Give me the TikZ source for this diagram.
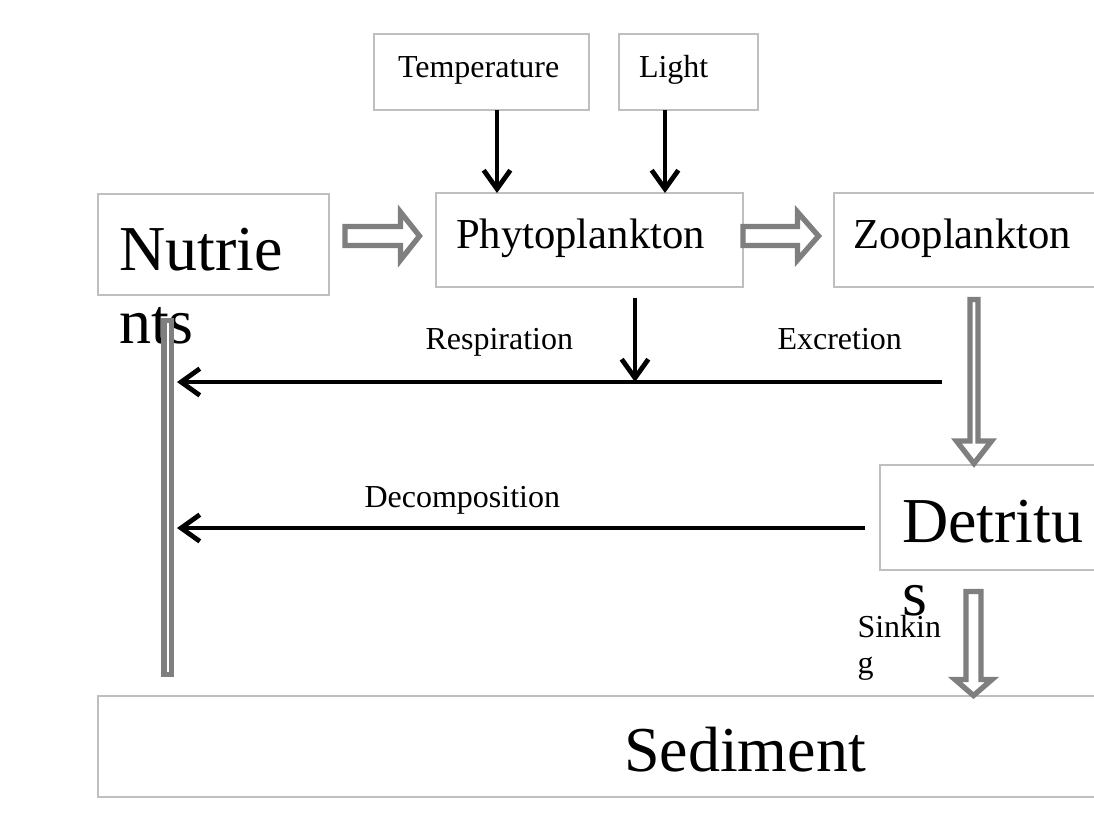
\documentclass[tikz,border=0pt]{standalone}
\usepackage{fontspec}
\setmainfont{Liberation Serif}
\usetikzlibrary{arrows.meta}
\definecolor{boxgray}{HTML}{BFBFBF}
\definecolor{arrgray}{HTML}{7F7F7F}
\newcommand\fsmall{\fontsize{12}{13.5}\selectfont}
\newcommand\fmid{\fontsize{16}{19}\selectfont}
\newcommand\fbig{\fontsize{24}{27.4}\selectfont}
\tikzset{
  box/.style={draw=boxgray, line width=0.75pt, anchor=north west, outer sep=0pt, inner ysep=0pt, align=left},
  lbl/.style={anchor=base west, inner sep=0pt, font=\fsmall},
  arr/.style={line width=1.2pt, -{Straight Barb[length=7pt,width=10pt,line width=1.8pt]}},
  hollow/.style={draw=arrgray, line width=2pt, fill=white},
  bar/.style={draw=arrgray, line width=2pt, fill=white, inner sep=0pt, outer sep=0pt}
}

\begin{document}
\begin{tikzpicture}[x=0.375pt, y=-0.375pt]
        \useasboundingbox (0,0) rectangle (1094,838);
        \clip (0,0) rectangle (1094,838);
        \node[box, font=\fsmall, inner xsep=9pt, text width=62.625pt, text height=16.125pt, text depth=12.375pt] (temp) at (374,34) {Temperature};
        \node[box, font=\fsmall, inner xsep=7.5pt, text width=37.125pt, text height=16.125pt, text depth=12.375pt] (light) at (619,34) {Light};
        \node[box, font=\fbig, inner xsep=7.875pt, text width=70.875pt, text height=28.5pt, text depth=9.375pt] (nut) at (98,194) {Nutrie\\nts};
        \node[box, font=\fmid, inner xsep=7.5pt, text width=100.125pt, text height=20.625pt, text depth=14.625pt] (phyto) at (436,193) {Phytoplankton};
        \node[box, font=\fmid, inner xsep=7.125pt, text width=93pt, text height=20.625pt, text depth=14.625pt] (zoo) at (834,193) {Zooplankton};
        \node[box, font=\fbig, inner xsep=8.25pt, text width=73.5pt, text height=28.875pt, text depth=10.5pt] (det) at (880,465) {Detritu\\s};
        \node[box, font=\fbig, align=center, inner xsep=7.875pt, text width=469.5pt, text height=28.125pt, text depth=9.75pt] (sed) at (98,696) {Sediment};
        \node[bar, minimum width=2.8125pt, minimum height=132.75pt] (nbar) at (167.75,497.5) {};

        \node[lbl] (resp) at (425,349) {Respiration};
        \node[lbl] (excr) at (777,349) {Excretion};
        \node[lbl] (decomp) at (364,507) {Decomposition};
        \node[lbl, text width=30pt, align=left] (sink) at (857,637) {Sinkin\\g};

        \coordinate (tx) at (497,0);
        \coordinate (lx) at (665,0);
        \coordinate (rx) at (635,0);
        \coordinate (exc) at (942,382);
        \coordinate (dec) at (865,528);

        \draw[hollow] (345,226.5) -- (400.5,226.5) -- (400.5,212) -- (419.5,236) -- (400.5,260) -- (400.5,245.5) -- (345,245.5) -- cycle;
        \draw[hollow] (743,226.5) -- (797.5,226.5) -- (797.5,212) -- (818.5,236) -- (797.5,260) -- (797.5,245.5) -- (743,245.5) -- cycle;
        \draw[hollow] (970,299.5) -- (978,299.5) -- (978,441) -- (991.5,441) -- (974,463.5) -- (956.5,441) -- (970,441) -- cycle;
        \draw[hollow] (966,591.5) -- (981,591.5) -- (981,679.5) -- (992,679.5) -- (973.5,695.5) -- (955,679.5) -- (966,679.5) -- cycle;

        \draw[arr] (temp.south -| tx) -- (phyto.north -| tx);
        \draw[arr] (light.south -| lx) -- (phyto.north -| lx);
        \draw[arr, shorten <=4.1pt] (phyto.south -| rx) -- (exc -| rx);
        \draw[arr, shorten >=2.06pt] (exc) -- (nbar.east |- exc);
        \draw[arr, shorten >=2.06pt] (dec) -- (nbar.east |- dec);
\end{tikzpicture}
\end{document}
